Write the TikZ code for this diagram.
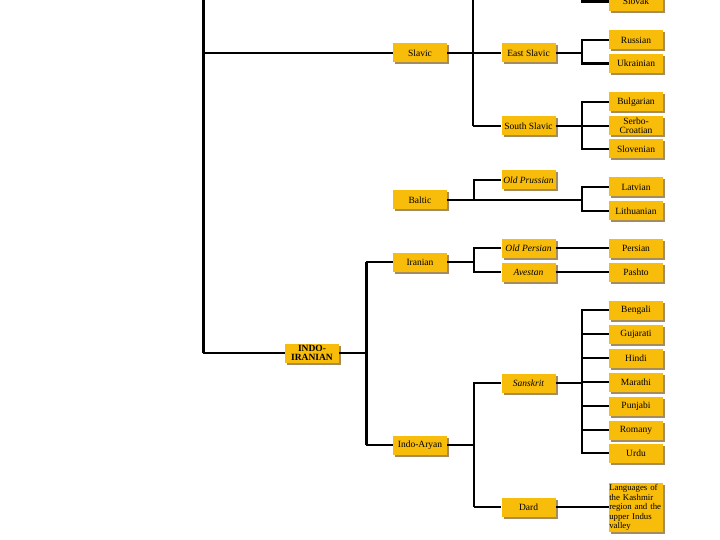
\documentclass[tikz,border=0pt]{standalone}
\usepackage{fontspec}
\setmainfont{Liberation Serif}
\usetikzlibrary{shadows}
\definecolor{boxfill}{RGB}{248,188,10}
\definecolor{boxshadow}{RGB}{165,140,95}
\begin{document}
\begin{tikzpicture}[x=1pt,y=-1pt,
  lbox/.style={rectangle, fill=boxfill, inner sep=0pt, minimum width=54pt, minimum height=19pt,
    align=center, font=\fontsize{9.5}{9}\selectfont,
    drop shadow={shadow xshift=2pt, shadow yshift=-2pt, fill=boxshadow, opacity=1}},
  trunk/.style={line width=3pt},
  thk/.style={line width=2.4pt},
  thn/.style={line width=1.3pt}]
\useasboundingbox (0,0) rectangle (720,540);
% right column
\node[lbox] (slovak) at (636,1.5) {Slovak};
\node[lbox] (russian) at (636,40) {Russian};
\node[lbox] (ukrainian) at (636,63.5) {Ukrainian};
\node[lbox] (bulgarian) at (636,102) {Bulgarian};
\node[lbox] (serbo) at (636,126) {Serbo-\\Croatian};
\node[lbox] (slovenian) at (636,149) {Slovenian};
\node[lbox] (latvian) at (636,187) {Latvian};
\node[lbox] (lithuanian) at (636,211) {Lithuanian};
\node[lbox] (persian) at (636,248) {Persian};
\node[lbox] (pashto) at (636,272) {Pashto};
\node[lbox] (bengali) at (636,310) {Bengali};
\node[lbox] (gujarati) at (636,334) {Gujarati};
\node[lbox] (hindi) at (636,358) {Hindi};
\node[lbox] (marathi) at (636,382) {Marathi};
\node[lbox] (punjabi) at (636,406) {Punjabi};
\node[lbox] (romany) at (636,430) {Romany};
\node[lbox] (urdu) at (636,453) {Urdu};
\node[lbox, minimum height=49pt, text width=53.5pt, align=left, inner xsep=0.3pt,
  font=\fontsize{8.8}{9.6}\selectfont] (kashmir) at (636,507.5)
  {Languages of\\the Kashmir\\region and the\\upper Indus\\valley};
% middle column
\node[lbox] (eastslavic) at (528.5,53) {East Slavic};
\node[lbox] (southslavic) at (528.5,126) {South Slavic};
\node[lbox, font=\fontsize{9.5}{9}\selectfont\itshape] (oldprussian) at (528.5,180) {Old Prussian};
\node[lbox, font=\fontsize{9.5}{9}\selectfont\itshape] (oldpersian) at (528.5,248) {Old Persian};
\node[lbox, font=\fontsize{9.5}{9}\selectfont\itshape] (avestan) at (528.5,272) {Avestan};
\node[lbox, font=\fontsize{9.5}{9}\selectfont\itshape] (sanskrit) at (528.5,383) {Sanskrit};
\node[lbox] (dard) at (528.5,507) {Dard};
% left column
\node[lbox] (slavic) at (420,53) {Slavic};
\node[lbox] (baltic) at (420,200) {Baltic};
\node[lbox] (iranian) at (420,262) {Iranian};
\node[lbox] (indoaryan) at (420,445) {Indo-Aryan};
\node[lbox, font=\fontsize{9.5}{9}\selectfont\bfseries] (indoiranian) at (312,353) {INDO-\\IRANIAN};
% junctions
\coordinate (trunktop) at (203,0);
\coordinate (slavtop) at (473,0);
\coordinate (wstop) at (582,0);
\coordinate (jes) at (582,53);
\coordinate (jss) at (582,126);
\coordinate (jbal) at (582,200);
\coordinate (jop) at (474,200);
\coordinate (jii) at (366,353);
\coordinate (jir) at (474,262);
\coordinate (jia) at (474,445);
\coordinate (jsk) at (582,383);
% trunk
\draw[trunk] (trunktop) -- (trunktop |- indoiranian.west);
\draw[thn] (trunktop |- indoiranian.west) -- (indoiranian.west);
\draw[thk] (trunktop |- slavic.west) -- (slavic.west);
% Slavic
\draw[thk] (slavic.east) -- (eastslavic.west);
\draw[thk] (slavtop) -- (slavtop |- southslavic.west);
\draw[thn] (slavtop |- southslavic.west) -- (southslavic.west);
\draw[thk] (wstop) |- (slovak.west);
\draw[thk] (eastslavic.east) -- (jes);
\draw[thk] (russian.west) -| (jes) |- (ukrainian.west);
\draw[thn] (southslavic.east) -- (jss);
\draw[thn] (bulgarian.west) -| (jss) |- (slovenian.west);
\draw[thn] (jss) -- (serbo.west);
% Baltic
\draw[thk] (baltic.east) -- (jbal);
\draw[thn] (jop) |- (oldprussian.west);
\draw[thk] (latvian.west) -| (jbal) |- (lithuanian.west);
% Indo-Iranian
\draw[thn] (indoiranian.east) -- (jii);
\draw[trunk] (jii |- iranian.west) -- (jii |- indoaryan.west);
\draw[thn] (jii |- iranian.west) -- (iranian.west);
\draw[thk] (jii |- indoaryan.west) -- (indoaryan.west);
% Iranian
\draw[thn] (iranian.east) -- (jir);
\draw[thk] (oldpersian.west) -| (jir) |- (avestan.west);
\draw[thn] (oldpersian.east) -- (persian.west);
\draw[thn] (avestan.east) -- (pashto.west);
% Indo-Aryan
\draw[thk] (indoaryan.east) -- (jia);
\draw[thk] (sanskrit.west) -| (jia);
\draw[thk] (jia) -- (jia |- dard.west);
\draw[thn] (jia |- dard.west) -- (dard.west);
\draw[thk] (sanskrit.east) -- (jsk);
\draw[thk] (bengali.west) -| (jsk |- urdu.west) -- (urdu.west);
\draw[thk] (jsk |- gujarati.west) -- (gujarati.west);
\draw[thk] (jsk |- hindi.west) -- (hindi.west);
\draw[thk] (jsk |- marathi.west) -- (marathi.west);
\draw[thk] (jsk |- punjabi.west) -- (punjabi.west);
\draw[thk] (jsk |- romany.west) -- (romany.west);
\draw[thn] (dard.east) -- (dard.east -| kashmir.west);
\end{tikzpicture}
\end{document}
